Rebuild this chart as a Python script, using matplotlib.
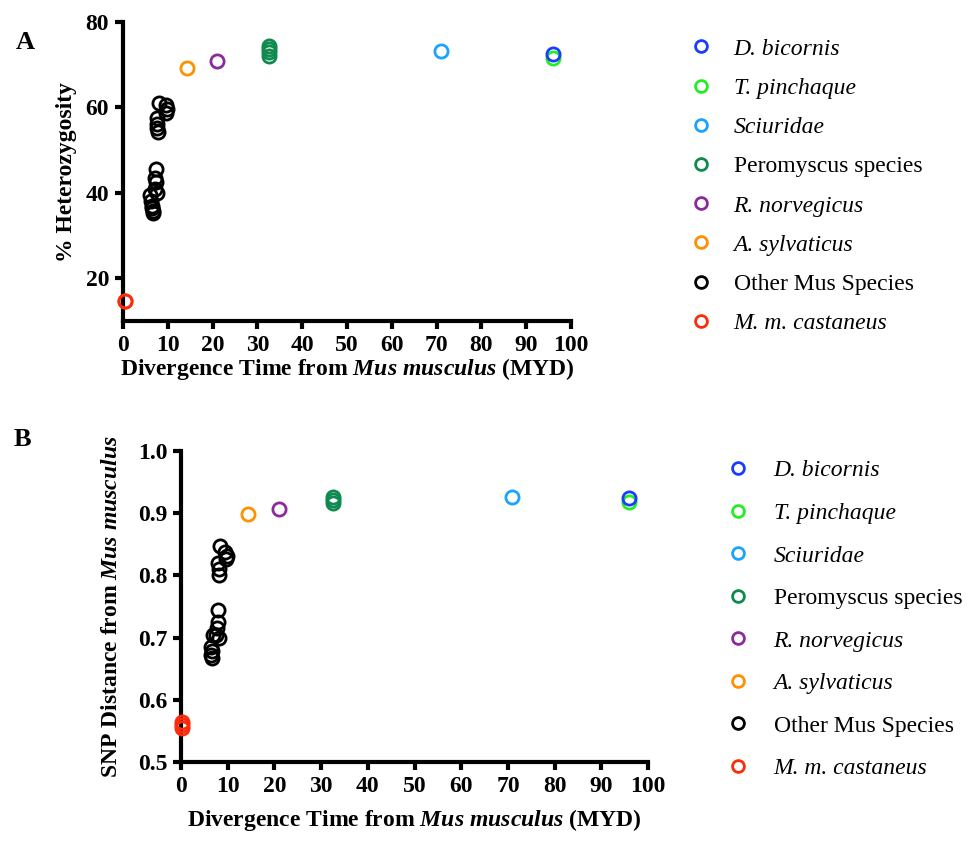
import numpy as np
import matplotlib
matplotlib.use("Agg")
from matplotlib import pyplot as plt
from matplotlib.lines import Line2D

plt.rcParams['font.family'] = ['Liberation Serif', 'DejaVu Serif']
plt.rcParams['mathtext.fontset'] = 'custom'
plt.rcParams['mathtext.rm'] = 'Liberation Serif:bold'
plt.rcParams['mathtext.it'] = 'Liberation Serif:italic:bold'
plt.rcParams['mathtext.bf'] = 'Liberation Serif:bold'

# legend order, colours
groups = ["D. bicornis", "T. pinchaque", "Sciuridae", "Peromyscus species",
          "R. norvegicus", "A. sylvaticus", "Other Mus Species", "M. m. castaneus"]
italic = [True, True, True, False, True, True, False, True]
colors = ["#1a3cff", "#22ee22", "#1aa3ff", "#0e8a4f",
          "#8b2a9b", "#ff9000", "#000000", "#ff2a0a"]

# divergence time (MYD) per group
div_time = {
    "D. bicornis": [96.0],
    "T. pinchaque": [96.0],
    "Sciuridae": [71.0],
    "Peromyscus species": [32.6, 32.6, 32.6, 32.6],
    "R. norvegicus": [21.0],
    "A. sylvaticus": [14.3],
    "Other Mus Species": [8.0, 9.5, 9.8, 9.7, 7.7, 7.5, 7.6, 7.8,
                          7.3, 7.2, 7.4, 7.2, 7.5, 6.0, 6.3, 6.5, 6.4, 6.6, 6.7],
    "M. m. castaneus": [0.5, 0.5],
}

# panel A: % heterozygosity
het = {
    "D. bicornis": [72.5],
    "T. pinchaque": [71.5],
    "Sciuridae": [73.3],
    "Peromyscus species": [74.4, 73.7, 72.9, 72.0],
    "R. norvegicus": [70.9],
    "A. sylvaticus": [69.2],
    "Other Mus Species": [61.0, 60.6, 59.6, 58.8, 57.6, 56.2, 55.2, 54.3,
                          45.5, 43.5, 42.5, 41.0, 40.0, 39.5, 38.0, 37.0, 36.4, 35.8, 35.3],
    "M. m. castaneus": [14.8, 14.8],
}

# panel B: SNP distance
snp_time = {
    "D. bicornis": [96.0],
    "T. pinchaque": [96.0],
    "Sciuridae": [70.9],
    "Peromyscus species": [32.6, 32.6, 32.6],
    "R. norvegicus": [21.0],
    "A. sylvaticus": [14.3],
    "Other Mus Species": [8.3, 9.5, 9.8, 9.7, 8.0, 8.2, 8.1,
                          8.0, 8.0, 7.8, 7.5, 6.8, 8.2, 6.5, 6.6, 6.5, 6.6],
    "M. m. castaneus": [0.2, 0.2, 0.2],
}
snp = {
    "D. bicornis": [0.924],
    "T. pinchaque": [0.918],
    "Sciuridae": [0.926],
    "Peromyscus species": [0.926, 0.921, 0.916],
    "R. norvegicus": [0.906],
    "A. sylvaticus": [0.899],
    "Other Mus Species": [0.847, 0.838, 0.832, 0.826, 0.820, 0.810, 0.800,
                          0.745, 0.725, 0.715, 0.705, 0.705, 0.700, 0.685, 0.678, 0.672, 0.668],
    "M. m. castaneus": [0.565, 0.560, 0.555],
}

fig = plt.figure(figsize=(9.76, 8.41), dpi=100)
axA = fig.add_axes([0.126, 0.6183, 0.459, 0.3555])
axB = fig.add_axes([0.1855, 0.0939, 0.4785, 0.3698])

msize = 9.5
mew = 2.0
fs = 17


def draw(ax, xs, ys, tickpad, xlabelpad):
    # draw in reverse legend order so the top groups sit on top
    for g, c in reversed(list(zip(groups, colors))):
        ax.plot(xs[g], ys[g], ls="none", marker="o", ms=msize, mfc="none",
                mec=c, mew=mew, clip_on=False, zorder=3)
    for side in ["top", "right"]:
        ax.spines[side].set_visible(False)
    for side in ["left", "bottom"]:
        ax.spines[side].set_linewidth(3)
    ax.tick_params(width=3, length=6, labelsize=fs, pad=4)
    ax.tick_params(axis="x", pad=tickpad)
    ax.set_xlim(0, 100)
    ax.set_xticks(np.arange(0, 101, 10))
    ax.set_xlabel(r"Divergence Time from $\mathit{Mus\ musculus}$ (MYD)",
                  fontsize=fs, fontweight="bold", labelpad=xlabelpad)


draw(axA, div_time, het, 4, 0)
axA.set_ylim(10, 80)
axA.set_yticks([20, 40, 60, 80])
axA.set_ylabel("% Heterozygosity", fontsize=fs, fontweight="bold", labelpad=6)
for lab in axA.get_xticklabels() + axA.get_yticklabels():
    lab.set_fontweight("bold")

draw(axB, snp_time, snp, 4, 7)
axB.set_ylim(0.5, 1.0)
axB.set_yticks(np.arange(0.5, 1.01, 0.1))
axB.set_yticklabels([f"{v:.1f}" for v in np.arange(0.5, 1.01, 0.1)])
axB.set_ylabel(r"SNP Distance from $\mathit{Mus\ musculus}$", fontsize=fs,
               fontweight="bold", labelpad=11)
for lab in axB.get_xticklabels() + axB.get_yticklabels():
    lab.set_fontweight("bold")

handles = [Line2D([], [], ls="none", marker="o", ms=8.5, mfc="none", mec=c, mew=mew)
           for c in colors]


def add_legend(anchor, spacing, textpad):
    leg = fig.legend(handles, groups, loc="upper left", bbox_to_anchor=anchor,
                     frameon=False, fontsize=fs, handletextpad=textpad,
                     labelspacing=spacing, handlelength=1.0, borderaxespad=0)
    for t, it in zip(leg.get_texts(), italic):
        if it:
            t.set_fontstyle("italic")
    return leg


add_legend((0.696, 0.966), 0.75, 0.9)
add_legend((0.7345, 0.4643), 0.89, 1.0)

fig.text(0.016, 0.950, "A", fontsize=19, fontweight="bold", va="center")
fig.text(0.014, 0.477, "B", fontsize=19, fontweight="bold", va="center")

fig.savefig("out.png", dpi=100)
